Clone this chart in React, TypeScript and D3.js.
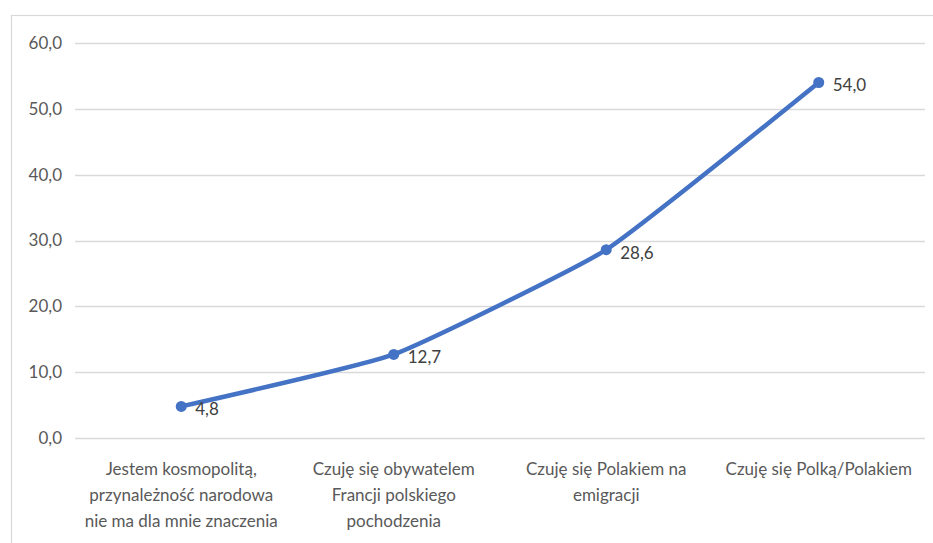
import React, { useEffect, useRef } from 'react';
import * as d3 from 'd3';

const categories = [
  ['Jestem kosmopolitą,', 'przynależność narodowa', 'nie ma dla mnie znaczenia'],
  ['Czuję się obywatelem', 'Francji polskiego', 'pochodzenia'],
  ['Czuję się Polakiem na', 'emigracji'],
  ['Czuję się Polką/Polakiem'],
];
const values = [4.8, 12.7, 28.6, 54.0];
const yTicks = [0, 10, 20, 30, 40, 50, 60];

const W = 933, H = 543;
const FONT = 'Lato, "Open Sans", sans-serif';

const fmt = (v: number) => v.toFixed(1).replace('.', ',');

export default function App() {
  const ref = useRef<SVGSVGElement>(null);

  useEffect(() => {
    const svg = d3.select(ref.current);
    svg.selectAll('*').remove();

    const margin = { left: 75, right: 8, top: 43, bottom: 105 };
    const x = d3.scaleBand<number>()
      .domain(values.map((_, i) => i))
      .range([margin.left, W - margin.right]);
    const y = d3.scaleLinear().domain([0, 60]).range([H - margin.bottom, margin.top]);

    // chart area border
    svg.append('rect')
      .attr('x', 11.5).attr('y', 15.5)
      .attr('width', 960).attr('height', 600)
      .attr('fill', 'none').attr('stroke', '#d9d9d9').attr('stroke-width', 1.2);

    // gridlines
    svg.append('g').selectAll('line').data(yTicks).join('line')
      .attr('x1', margin.left).attr('x2', W - margin.right)
      .attr('y1', d => Math.round(y(d)) + 0.5).attr('y2', d => Math.round(y(d)) + 0.5)
      .attr('stroke', '#d9d9d9').attr('stroke-width', 1.5);

    // y tick labels
    svg.append('g').selectAll('text').data(yTicks).join('text')
      .attr('x', 62).attr('y', d => y(d))
      .attr('dy', '0.35em')
      .attr('text-anchor', 'end')
      .attr('font-family', FONT).attr('font-size', 17)
      .attr('fill', '#595959')
      .text(d => fmt(d));

    // category labels
    const cat = svg.append('g').selectAll('text').data(categories).join('text')
      .attr('text-anchor', 'middle')
      .attr('font-family', FONT).attr('font-size', 17)
      .attr('fill', '#595959');
    cat.each(function (lines, i) {
      const cx = x(i)! + x.bandwidth() / 2;
      d3.select(this).selectAll('tspan').data(lines).join('tspan')
        .attr('x', cx)
        .attr('y', (_, j) => 475 + j * 26)
        .text(d => d);
    });

    const cx = (i: number) => x(i)! + x.bandwidth() / 2;

    const line = d3.line<number>()
      .x((_, i) => cx(i))
      .y(d => y(d))
      .curve(d3.curveCardinal.tension(0.6));

    svg.append('path').datum(values)
      .attr('d', line)
      .attr('fill', 'none')
      .attr('stroke', '#4472c4')
      .attr('stroke-width', 4.5)
      .attr('stroke-linecap', 'round');

    svg.append('g').selectAll('circle').data(values).join('circle')
      .attr('cx', (_, i) => cx(i)).attr('cy', d => y(d))
      .attr('r', 5.5)
      .attr('fill', '#4472c4');

    svg.append('g').selectAll('text').data(values).join('text')
      .attr('x', (_, i) => cx(i) + 14).attr('y', d => y(d) + 3)
      .attr('dy', '0.35em')
      .attr('font-family', FONT).attr('font-size', 17)
      .attr('fill', '#404040')
      .text(d => fmt(d));
  }, []);

  return (
    <svg ref={ref} width={W} height={H}
      style={{ position: 'absolute', left: 0, top: 0, background: '#fff' }} />
  );
}
